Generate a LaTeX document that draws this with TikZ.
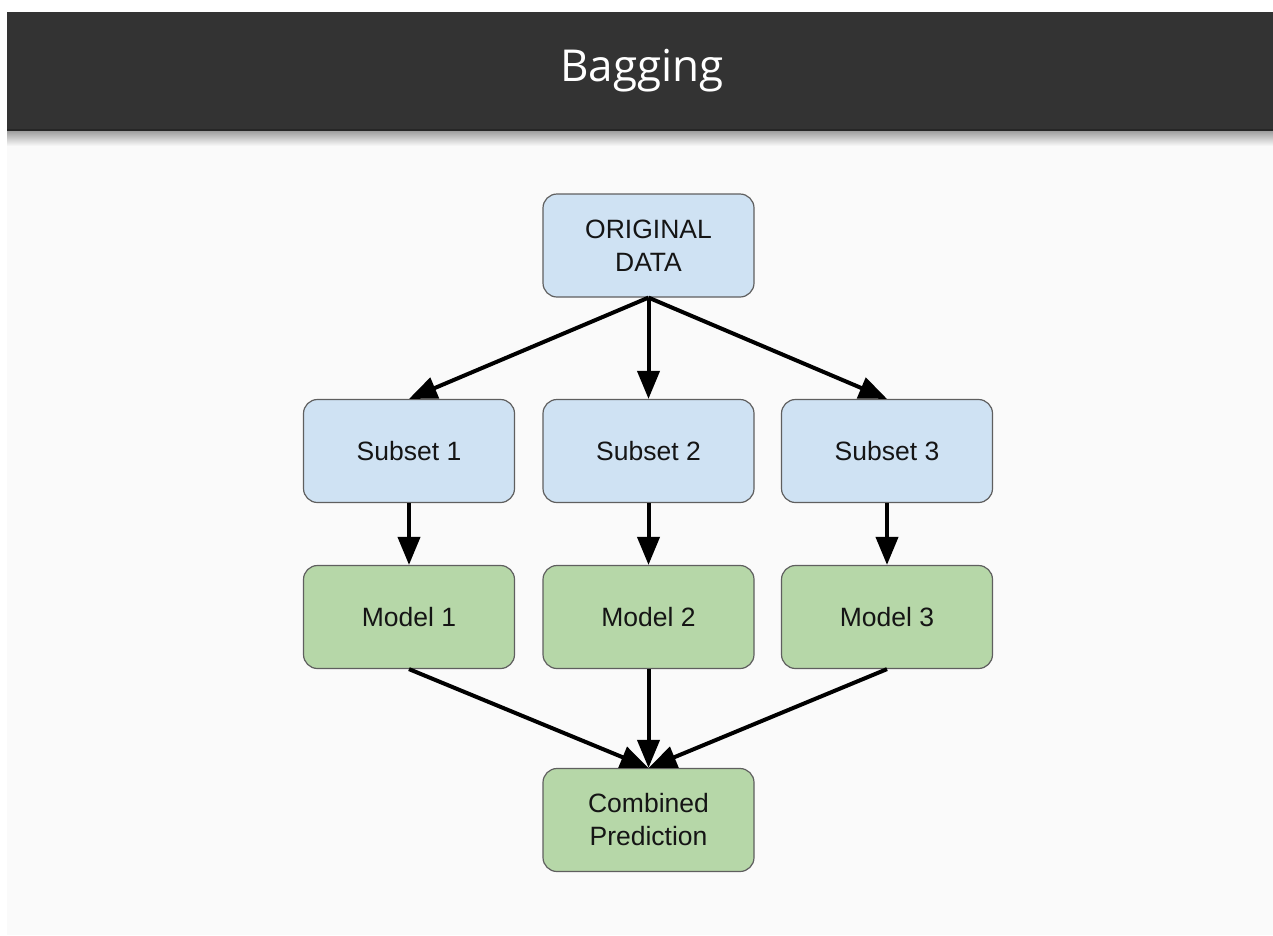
\documentclass[tikz,border=0pt]{standalone}
\usepackage{fontspec}
\usetikzlibrary{arrows.meta}
\newfontfamily\boxfont{Liberation Sans}
\newfontfamily\titlefont{Open Sans}
\definecolor{barcol}{HTML}{333333}
\definecolor{pagecol}{HTML}{FAFAFA}
\definecolor{datablue}{HTML}{CFE2F3}
\definecolor{modelgreen}{HTML}{B6D7A8}
\definecolor{edgegray}{HTML}{5F5F5F}
\definecolor{inkcol}{HTML}{151515}
\tikzset{
  flowbox/.style={draw=edgegray, line width=1.2pt, rounded corners=14pt,
    minimum width=211pt, minimum height=103pt, align=center, text=inkcol,
    font=\boxfont\fontsize{26.5}{33}\selectfont, inner sep=0pt},
  databox/.style={flowbox, fill=datablue},
  modelbox/.style={flowbox, fill=modelgreen},
  flow/.style={line width=4pt, -{Triangle[length=28pt,width=22pt]}}
}
\begin{document}
\begin{tikzpicture}[x=1pt,y=-1pt]
  \useasboundingbox (0,0) rectangle (1273,935);
  % page and header bar
  \fill[white] (0,0) rectangle (1273,935);
  \fill[pagecol] (7,12) rectangle (1273,935);
  \shade[top color=black!40, bottom color=pagecol] (7,130) rectangle (1273,146);
  \fill[barcol] (7,12) rectangle (1273,130);
  \fill[black!85] (7,128.5) rectangle (1273,131);
  \node[text=white, font=\titlefont\fontsize{44}{50}\selectfont] (title) at (642,71) {Bagging};

  % boxes
  \node[databox] (orig) at (648.5,245.5) {ORIGINAL\\DATA};
  \node[databox] (s1) at (409,451) {Subset 1};
  \node[databox] (s2) at (648.5,451) {Subset 2};
  \node[databox] (s3) at (887,451) {Subset 3};
  \node[modelbox] (m1) at (409,617) {Model 1};
  \node[modelbox] (m2) at (648.5,617) {Model 2};
  \node[modelbox] (m3) at (887,617) {Model 3};
  \node[modelbox] (comb) at (648.5,820) {Combined\\Prediction};

  % connectors
  \draw[flow] (orig.south) -- (s1.north);
  \draw[flow] (orig.south) -- (s2.north);
  \draw[flow] (orig.south) -- (s3.north);
  \draw[flow] (s1.south) -- (m1.north);
  \draw[flow] (s2.south) -- (m2.north);
  \draw[flow] (s3.south) -- (m3.north);
  \draw[flow] (m1.south) -- (comb.north);
  \draw[flow] (m2.south) -- (comb.north);
  \draw[flow] (m3.south) -- (comb.north);
\end{tikzpicture}
\end{document}
